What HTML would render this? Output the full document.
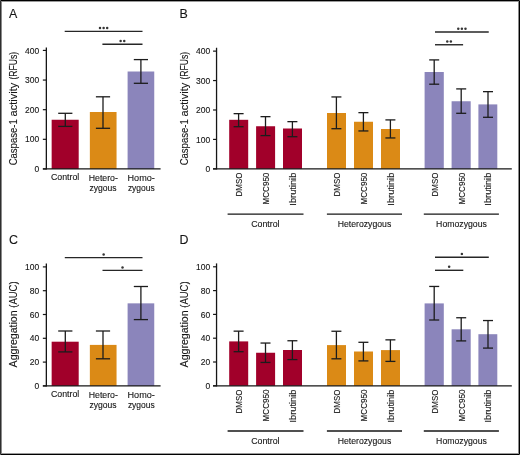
<!DOCTYPE html>
<html><head><meta charset="utf-8"><style>
html,body{margin:0;padding:0;background:#fff;}
svg{display:block;font-family:"Liberation Sans",sans-serif;will-change:transform;}
text{stroke:#161616;stroke-width:0.12px;}
</style></head><body>
<svg width="520" height="455" viewBox="0 0 520 455">
<rect x="0" y="0" width="520" height="455" fill="#fff"/>
<rect x="0" y="0" width="520" height="1" fill="#000"/>
<rect x="0" y="1" width="520" height="1" fill="#9a9a9a"/>
<rect x="0" y="454" width="520" height="1" fill="#000"/>
<rect x="0" y="453" width="520" height="1" fill="#9a9a9a"/>
<rect x="519" y="0" width="1" height="455" fill="#000"/>
<rect x="518" y="1" width="1" height="453" fill="#8a8a8a"/>
<rect x="0" y="0" width="1" height="455" fill="#2e2e2e"/>
<rect x="1" y="1" width="1" height="453" fill="#8a8a8a"/>
<rect x="0" y="0" width="1" height="1" fill="#5a5a5a"/>
<rect x="519" y="0" width="1" height="1" fill="#5a5a5a"/>
<rect x="0" y="454" width="1" height="1" fill="#5a5a5a"/>
<rect x="519" y="454" width="1" height="1" fill="#5a5a5a"/>
<text x="8.9" y="18.4" font-size="12.4" text-anchor="start" fill="#161616">A</text>
<text transform="translate(16.9,165.3) rotate(-90)" font-size="10" text-anchor="start" fill="#161616" textLength="46.0" lengthAdjust="spacingAndGlyphs">Caspase-1</text>
<text transform="translate(16.9,116.4) rotate(-90)" font-size="10" text-anchor="start" fill="#161616" textLength="33.6" lengthAdjust="spacingAndGlyphs">activity</text>
<text transform="translate(16.9,79.6) rotate(-90)" font-size="10" text-anchor="start" fill="#161616" textLength="27.8" lengthAdjust="spacingAndGlyphs">(RFUs)</text>
<rect x="51.65" y="119.75" width="27.05" height="49.2" fill="#a1002a"/>
<rect x="89.85" y="112.0" width="26.7" height="56.95" fill="#db8a16"/>
<rect x="127.6" y="71.5" width="26.65" height="97.45" fill="#8b85bb"/>
<line x1="65.3" y1="113.3" x2="65.3" y2="126.4" stroke="#1c1c1c" stroke-width="1.3"/>
<line x1="58.2" y1="113.3" x2="72.4" y2="113.3" stroke="#1c1c1c" stroke-width="1.3"/>
<line x1="58.2" y1="126.4" x2="72.4" y2="126.4" stroke="#1c1c1c" stroke-width="1.3"/>
<line x1="103.0" y1="96.8" x2="103.0" y2="128.3" stroke="#1c1c1c" stroke-width="1.3"/>
<line x1="95.9" y1="96.8" x2="110.1" y2="96.8" stroke="#1c1c1c" stroke-width="1.3"/>
<line x1="95.9" y1="128.3" x2="110.1" y2="128.3" stroke="#1c1c1c" stroke-width="1.3"/>
<line x1="140.9" y1="59.6" x2="140.9" y2="83.3" stroke="#1c1c1c" stroke-width="1.3"/>
<line x1="133.8" y1="59.6" x2="148.0" y2="59.6" stroke="#1c1c1c" stroke-width="1.3"/>
<line x1="133.8" y1="83.3" x2="148.0" y2="83.3" stroke="#1c1c1c" stroke-width="1.3"/>
<line x1="46.35" y1="47.5" x2="46.35" y2="169.55" stroke="#161616" stroke-width="1.3"/>
<line x1="42.85" y1="50.43" x2="46.35" y2="50.43" stroke="#161616" stroke-width="1.2"/>
<text x="39.25" y="53.58" font-size="9" text-anchor="end" fill="#161616" textLength="14.16" lengthAdjust="spacingAndGlyphs">400</text>
<line x1="42.85" y1="80.06" x2="46.35" y2="80.06" stroke="#161616" stroke-width="1.2"/>
<text x="39.25" y="83.21" font-size="9" text-anchor="end" fill="#161616" textLength="14.16" lengthAdjust="spacingAndGlyphs">300</text>
<line x1="42.85" y1="109.69" x2="46.35" y2="109.69" stroke="#161616" stroke-width="1.2"/>
<text x="39.25" y="112.84" font-size="9" text-anchor="end" fill="#161616" textLength="14.16" lengthAdjust="spacingAndGlyphs">200</text>
<line x1="42.85" y1="139.32" x2="46.35" y2="139.32" stroke="#161616" stroke-width="1.2"/>
<text x="39.25" y="142.47" font-size="9" text-anchor="end" fill="#161616" textLength="14.16" lengthAdjust="spacingAndGlyphs">100</text>
<line x1="42.85" y1="168.95" x2="46.35" y2="168.95" stroke="#161616" stroke-width="1.2"/>
<text x="39.25" y="172.1" font-size="9" text-anchor="end" fill="#161616" textLength="4.72" lengthAdjust="spacingAndGlyphs">0</text>
<line x1="42.9" y1="168.95" x2="160.6" y2="168.95" stroke="#161616" stroke-width="1.3"/>
<text x="65.1" y="180.45" font-size="9.3" text-anchor="middle" fill="#161616" textLength="28.4" lengthAdjust="spacingAndGlyphs">Control</text>
<text x="103.3" y="180.55" font-size="9.3" text-anchor="middle" fill="#161616" textLength="29.2" lengthAdjust="spacingAndGlyphs">Hetero-</text>
<text x="103.0" y="191.25" font-size="9.3" text-anchor="middle" fill="#161616" textLength="27.2" lengthAdjust="spacingAndGlyphs">zygous</text>
<text x="141.2" y="180.55" font-size="9.3" text-anchor="middle" fill="#161616" textLength="27.3" lengthAdjust="spacingAndGlyphs">Homo-</text>
<text x="141.3" y="191.25" font-size="9.3" text-anchor="middle" fill="#161616" textLength="26.8" lengthAdjust="spacingAndGlyphs">zygous</text>
<line x1="64.7" y1="31.4" x2="142.5" y2="31.4" stroke="#262626" stroke-width="1.4"/>
<circle cx="100.00" cy="28.1" r="1.25" fill="#353535"/>
<circle cx="103.60" cy="28.1" r="1.25" fill="#353535"/>
<circle cx="107.20" cy="28.1" r="1.25" fill="#353535"/>
<line x1="102.4" y1="44.2" x2="142.5" y2="44.2" stroke="#262626" stroke-width="1.4"/>
<circle cx="120.65" cy="41.1" r="1.25" fill="#353535"/>
<circle cx="124.25" cy="41.1" r="1.25" fill="#353535"/>
<text x="179.6" y="18.4" font-size="12.4" text-anchor="start" fill="#161616">B</text>
<text transform="translate(187.6,165.3) rotate(-90)" font-size="10" text-anchor="start" fill="#161616" textLength="46.0" lengthAdjust="spacingAndGlyphs">Caspase-1</text>
<text transform="translate(187.6,116.4) rotate(-90)" font-size="10" text-anchor="start" fill="#161616" textLength="33.6" lengthAdjust="spacingAndGlyphs">activity</text>
<text transform="translate(187.6,79.6) rotate(-90)" font-size="10" text-anchor="start" fill="#161616" textLength="27.8" lengthAdjust="spacingAndGlyphs">(RFUs)</text>
<rect x="229.2" y="119.8" width="19.0" height="49.05" fill="#a1002a"/>
<rect x="256.1" y="126.25" width="19.0" height="42.6" fill="#a1002a"/>
<rect x="283.0" y="128.5" width="19.0" height="40.35" fill="#a1002a"/>
<rect x="327.0" y="113.0" width="19.0" height="55.85" fill="#db8a16"/>
<rect x="354.0" y="121.75" width="19.0" height="47.1" fill="#db8a16"/>
<rect x="381.0" y="129.0" width="19.0" height="39.85" fill="#db8a16"/>
<rect x="424.6" y="72.0" width="19.2" height="96.85" fill="#8b85bb"/>
<rect x="451.6" y="101.25" width="19.1" height="67.6" fill="#8b85bb"/>
<rect x="478.4" y="104.4" width="18.9" height="64.45" fill="#8b85bb"/>
<line x1="238.6" y1="113.65" x2="238.6" y2="126.7" stroke="#1c1c1c" stroke-width="1.3"/>
<line x1="233.6" y1="113.65" x2="243.6" y2="113.65" stroke="#1c1c1c" stroke-width="1.3"/>
<line x1="233.6" y1="126.7" x2="243.6" y2="126.7" stroke="#1c1c1c" stroke-width="1.3"/>
<line x1="265.5" y1="116.65" x2="265.5" y2="135.6" stroke="#1c1c1c" stroke-width="1.3"/>
<line x1="260.5" y1="116.65" x2="270.5" y2="116.65" stroke="#1c1c1c" stroke-width="1.3"/>
<line x1="260.5" y1="135.6" x2="270.5" y2="135.6" stroke="#1c1c1c" stroke-width="1.3"/>
<line x1="292.4" y1="121.65" x2="292.4" y2="136.7" stroke="#1c1c1c" stroke-width="1.3"/>
<line x1="287.4" y1="121.65" x2="297.4" y2="121.65" stroke="#1c1c1c" stroke-width="1.3"/>
<line x1="287.4" y1="136.7" x2="297.4" y2="136.7" stroke="#1c1c1c" stroke-width="1.3"/>
<line x1="336.4" y1="96.95" x2="336.4" y2="128.7" stroke="#1c1c1c" stroke-width="1.3"/>
<line x1="331.4" y1="96.95" x2="341.4" y2="96.95" stroke="#1c1c1c" stroke-width="1.3"/>
<line x1="331.4" y1="128.7" x2="341.4" y2="128.7" stroke="#1c1c1c" stroke-width="1.3"/>
<line x1="363.4" y1="112.65" x2="363.4" y2="130.95" stroke="#1c1c1c" stroke-width="1.3"/>
<line x1="358.4" y1="112.65" x2="368.4" y2="112.65" stroke="#1c1c1c" stroke-width="1.3"/>
<line x1="358.4" y1="130.95" x2="368.4" y2="130.95" stroke="#1c1c1c" stroke-width="1.3"/>
<line x1="390.4" y1="119.9" x2="390.4" y2="137.95" stroke="#1c1c1c" stroke-width="1.3"/>
<line x1="385.4" y1="119.9" x2="395.4" y2="119.9" stroke="#1c1c1c" stroke-width="1.3"/>
<line x1="385.4" y1="137.95" x2="395.4" y2="137.95" stroke="#1c1c1c" stroke-width="1.3"/>
<line x1="434.2" y1="59.9" x2="434.2" y2="84.2" stroke="#1c1c1c" stroke-width="1.3"/>
<line x1="429.2" y1="59.9" x2="439.2" y2="59.9" stroke="#1c1c1c" stroke-width="1.3"/>
<line x1="429.2" y1="84.2" x2="439.2" y2="84.2" stroke="#1c1c1c" stroke-width="1.3"/>
<line x1="461.2" y1="88.9" x2="461.2" y2="113.3" stroke="#1c1c1c" stroke-width="1.3"/>
<line x1="456.2" y1="88.9" x2="466.2" y2="88.9" stroke="#1c1c1c" stroke-width="1.3"/>
<line x1="456.2" y1="113.3" x2="466.2" y2="113.3" stroke="#1c1c1c" stroke-width="1.3"/>
<line x1="488" y1="91.65" x2="488" y2="117.3" stroke="#1c1c1c" stroke-width="1.3"/>
<line x1="483" y1="91.65" x2="493" y2="91.65" stroke="#1c1c1c" stroke-width="1.3"/>
<line x1="483" y1="117.3" x2="493" y2="117.3" stroke="#1c1c1c" stroke-width="1.3"/>
<line x1="216.55" y1="47.75" x2="216.55" y2="169.45" stroke="#161616" stroke-width="1.3"/>
<line x1="213.05" y1="51.13" x2="216.55" y2="51.13" stroke="#161616" stroke-width="1.2"/>
<text x="210.15" y="54.28" font-size="9" text-anchor="end" fill="#161616" textLength="14.16" lengthAdjust="spacingAndGlyphs">400</text>
<line x1="213.05" y1="80.56" x2="216.55" y2="80.56" stroke="#161616" stroke-width="1.2"/>
<text x="210.15" y="83.71" font-size="9" text-anchor="end" fill="#161616" textLength="14.16" lengthAdjust="spacingAndGlyphs">300</text>
<line x1="213.05" y1="109.99" x2="216.55" y2="109.99" stroke="#161616" stroke-width="1.2"/>
<text x="210.15" y="113.14" font-size="9" text-anchor="end" fill="#161616" textLength="14.16" lengthAdjust="spacingAndGlyphs">200</text>
<line x1="213.05" y1="139.42" x2="216.55" y2="139.42" stroke="#161616" stroke-width="1.2"/>
<text x="210.15" y="142.57" font-size="9" text-anchor="end" fill="#161616" textLength="14.16" lengthAdjust="spacingAndGlyphs">100</text>
<line x1="213.05" y1="168.85" x2="216.55" y2="168.85" stroke="#161616" stroke-width="1.2"/>
<text x="210.15" y="172.0" font-size="9" text-anchor="end" fill="#161616" textLength="4.72" lengthAdjust="spacingAndGlyphs">0</text>
<line x1="213.0" y1="168.85" x2="511.8" y2="168.85" stroke="#161616" stroke-width="1.3"/>
<text transform="translate(242.1,172.65) rotate(-90)" font-size="9.9" text-anchor="end" fill="#161616" textLength="23.8" lengthAdjust="spacingAndGlyphs">DMSO</text>
<text transform="translate(269,172.65) rotate(-90)" font-size="9.9" text-anchor="end" fill="#161616" textLength="31.8" lengthAdjust="spacingAndGlyphs">MCC950</text>
<text transform="translate(295.9,172.65) rotate(-90)" font-size="9.9" text-anchor="end" fill="#161616" textLength="33.0" lengthAdjust="spacingAndGlyphs">Ibrutinib</text>
<text transform="translate(339.9,172.65) rotate(-90)" font-size="9.9" text-anchor="end" fill="#161616" textLength="23.8" lengthAdjust="spacingAndGlyphs">DMSO</text>
<text transform="translate(366.9,172.65) rotate(-90)" font-size="9.9" text-anchor="end" fill="#161616" textLength="31.8" lengthAdjust="spacingAndGlyphs">MCC950</text>
<text transform="translate(393.9,172.65) rotate(-90)" font-size="9.9" text-anchor="end" fill="#161616" textLength="33.0" lengthAdjust="spacingAndGlyphs">Ibrutinib</text>
<text transform="translate(437.5,172.65) rotate(-90)" font-size="9.9" text-anchor="end" fill="#161616" textLength="23.8" lengthAdjust="spacingAndGlyphs">DMSO</text>
<text transform="translate(464.5,172.65) rotate(-90)" font-size="9.9" text-anchor="end" fill="#161616" textLength="31.8" lengthAdjust="spacingAndGlyphs">MCC950</text>
<text transform="translate(491.3,172.65) rotate(-90)" font-size="9.9" text-anchor="end" fill="#161616" textLength="33.0" lengthAdjust="spacingAndGlyphs">Ibrutinib</text>
<line x1="227.6" y1="214.05" x2="303.5" y2="214.05" stroke="#161616" stroke-width="1.35"/>
<text x="265.4" y="226.6" font-size="9.4" text-anchor="middle" fill="#161616" textLength="28.4" lengthAdjust="spacingAndGlyphs">Control</text>
<line x1="326.9" y1="214.05" x2="402.0" y2="214.05" stroke="#161616" stroke-width="1.35"/>
<text x="364.5" y="226.6" font-size="9.4" text-anchor="middle" fill="#161616" textLength="53.6" lengthAdjust="spacingAndGlyphs">Heterozygous</text>
<line x1="423.8" y1="214.05" x2="498.9" y2="214.05" stroke="#161616" stroke-width="1.35"/>
<text x="461.5" y="226.6" font-size="9.4" text-anchor="middle" fill="#161616" textLength="50.8" lengthAdjust="spacingAndGlyphs">Homozygous</text>
<line x1="435" y1="32.0" x2="488.75" y2="32.0" stroke="#262626" stroke-width="1.4"/>
<circle cx="458.27" cy="28.75" r="1.25" fill="#353535"/>
<circle cx="461.88" cy="28.75" r="1.25" fill="#353535"/>
<circle cx="465.47" cy="28.75" r="1.25" fill="#353535"/>
<line x1="435" y1="44.75" x2="463.1" y2="44.75" stroke="#262626" stroke-width="1.4"/>
<circle cx="447.25" cy="41.5" r="1.25" fill="#353535"/>
<circle cx="450.85" cy="41.5" r="1.25" fill="#353535"/>
<text x="8.9" y="244.4" font-size="12.4" text-anchor="start" fill="#161616">C</text>
<text transform="translate(16.9,367.4) rotate(-90)" font-size="10" text-anchor="start" fill="#161616" textLength="57.0" lengthAdjust="spacingAndGlyphs">Aggregation</text>
<text transform="translate(16.9,307.7) rotate(-90)" font-size="10" text-anchor="start" fill="#161616" textLength="26.3" lengthAdjust="spacingAndGlyphs">(AUC)</text>
<rect x="51.65" y="341.7" width="27.05" height="44.2" fill="#a1002a"/>
<rect x="89.85" y="344.9" width="26.7" height="41.0" fill="#db8a16"/>
<rect x="127.6" y="303.35" width="26.65" height="82.55" fill="#8b85bb"/>
<line x1="65.3" y1="331.0" x2="65.3" y2="351.9" stroke="#1c1c1c" stroke-width="1.3"/>
<line x1="58.2" y1="331.0" x2="72.4" y2="331.0" stroke="#1c1c1c" stroke-width="1.3"/>
<line x1="58.2" y1="351.9" x2="72.4" y2="351.9" stroke="#1c1c1c" stroke-width="1.3"/>
<line x1="103.0" y1="331.0" x2="103.0" y2="358.8" stroke="#1c1c1c" stroke-width="1.3"/>
<line x1="95.9" y1="331.0" x2="110.1" y2="331.0" stroke="#1c1c1c" stroke-width="1.3"/>
<line x1="95.9" y1="358.8" x2="110.1" y2="358.8" stroke="#1c1c1c" stroke-width="1.3"/>
<line x1="140.9" y1="286.5" x2="140.9" y2="319.6" stroke="#1c1c1c" stroke-width="1.3"/>
<line x1="133.8" y1="286.5" x2="148.0" y2="286.5" stroke="#1c1c1c" stroke-width="1.3"/>
<line x1="133.8" y1="319.6" x2="148.0" y2="319.6" stroke="#1c1c1c" stroke-width="1.3"/>
<line x1="46.35" y1="263.6" x2="46.35" y2="386.5" stroke="#161616" stroke-width="1.3"/>
<line x1="42.85" y1="266.9" x2="46.35" y2="266.9" stroke="#161616" stroke-width="1.2"/>
<text x="39.25" y="270.05" font-size="9" text-anchor="end" fill="#161616" textLength="14.16" lengthAdjust="spacingAndGlyphs">100</text>
<line x1="42.85" y1="290.7" x2="46.35" y2="290.7" stroke="#161616" stroke-width="1.2"/>
<text x="39.25" y="293.85" font-size="9" text-anchor="end" fill="#161616" textLength="9.44" lengthAdjust="spacingAndGlyphs">80</text>
<line x1="42.85" y1="314.5" x2="46.35" y2="314.5" stroke="#161616" stroke-width="1.2"/>
<text x="39.25" y="317.65" font-size="9" text-anchor="end" fill="#161616" textLength="9.44" lengthAdjust="spacingAndGlyphs">60</text>
<line x1="42.85" y1="338.3" x2="46.35" y2="338.3" stroke="#161616" stroke-width="1.2"/>
<text x="39.25" y="341.45" font-size="9" text-anchor="end" fill="#161616" textLength="9.44" lengthAdjust="spacingAndGlyphs">40</text>
<line x1="42.85" y1="362.1" x2="46.35" y2="362.1" stroke="#161616" stroke-width="1.2"/>
<text x="39.25" y="365.25" font-size="9" text-anchor="end" fill="#161616" textLength="9.44" lengthAdjust="spacingAndGlyphs">20</text>
<line x1="42.85" y1="385.9" x2="46.35" y2="385.9" stroke="#161616" stroke-width="1.2"/>
<text x="39.25" y="389.05" font-size="9" text-anchor="end" fill="#161616" textLength="4.72" lengthAdjust="spacingAndGlyphs">0</text>
<line x1="42.9" y1="385.9" x2="160.6" y2="385.9" stroke="#161616" stroke-width="1.3"/>
<text x="65.1" y="397.4" font-size="9.3" text-anchor="middle" fill="#161616" textLength="28.4" lengthAdjust="spacingAndGlyphs">Control</text>
<text x="103.3" y="397.5" font-size="9.3" text-anchor="middle" fill="#161616" textLength="29.2" lengthAdjust="spacingAndGlyphs">Hetero-</text>
<text x="103.0" y="408.2" font-size="9.3" text-anchor="middle" fill="#161616" textLength="27.2" lengthAdjust="spacingAndGlyphs">zygous</text>
<text x="141.2" y="397.5" font-size="9.3" text-anchor="middle" fill="#161616" textLength="27.3" lengthAdjust="spacingAndGlyphs">Homo-</text>
<text x="141.3" y="408.2" font-size="9.3" text-anchor="middle" fill="#161616" textLength="26.8" lengthAdjust="spacingAndGlyphs">zygous</text>
<line x1="64.8" y1="257.6" x2="142.5" y2="257.6" stroke="#262626" stroke-width="1.4"/>
<circle cx="103.65" cy="254.4" r="1.25" fill="#353535"/>
<line x1="102.5" y1="270.4" x2="142.5" y2="270.4" stroke="#262626" stroke-width="1.4"/>
<circle cx="122.50" cy="267.4" r="1.25" fill="#353535"/>
<text x="179.6" y="244.4" font-size="12.4" text-anchor="start" fill="#161616">D</text>
<text transform="translate(187.6,367.4) rotate(-90)" font-size="10" text-anchor="start" fill="#161616" textLength="57.0" lengthAdjust="spacingAndGlyphs">Aggregation</text>
<text transform="translate(187.6,307.7) rotate(-90)" font-size="10" text-anchor="start" fill="#161616" textLength="26.3" lengthAdjust="spacingAndGlyphs">(AUC)</text>
<rect x="229.2" y="341.4" width="19.0" height="44.4" fill="#a1002a"/>
<rect x="256.1" y="352.75" width="19.0" height="33.05" fill="#a1002a"/>
<rect x="283.0" y="350.0" width="19.0" height="35.8" fill="#a1002a"/>
<rect x="327.0" y="345.1" width="19.0" height="40.7" fill="#db8a16"/>
<rect x="354.0" y="351.5" width="19.0" height="34.3" fill="#db8a16"/>
<rect x="381.0" y="350.1" width="19.0" height="35.7" fill="#db8a16"/>
<rect x="424.6" y="303.4" width="19.2" height="82.4" fill="#8b85bb"/>
<rect x="451.6" y="329.3" width="19.1" height="56.5" fill="#8b85bb"/>
<rect x="478.4" y="334.2" width="18.9" height="51.6" fill="#8b85bb"/>
<line x1="238.6" y1="331.15" x2="238.6" y2="351.7" stroke="#1c1c1c" stroke-width="1.3"/>
<line x1="233.6" y1="331.15" x2="243.6" y2="331.15" stroke="#1c1c1c" stroke-width="1.3"/>
<line x1="233.6" y1="351.7" x2="243.6" y2="351.7" stroke="#1c1c1c" stroke-width="1.3"/>
<line x1="265.5" y1="343.05" x2="265.5" y2="362.45" stroke="#1c1c1c" stroke-width="1.3"/>
<line x1="260.5" y1="343.05" x2="270.5" y2="343.05" stroke="#1c1c1c" stroke-width="1.3"/>
<line x1="260.5" y1="362.45" x2="270.5" y2="362.45" stroke="#1c1c1c" stroke-width="1.3"/>
<line x1="292.4" y1="340.75" x2="292.4" y2="359.6" stroke="#1c1c1c" stroke-width="1.3"/>
<line x1="287.4" y1="340.75" x2="297.4" y2="340.75" stroke="#1c1c1c" stroke-width="1.3"/>
<line x1="287.4" y1="359.6" x2="297.4" y2="359.6" stroke="#1c1c1c" stroke-width="1.3"/>
<line x1="336.4" y1="331.25" x2="336.4" y2="358.8" stroke="#1c1c1c" stroke-width="1.3"/>
<line x1="331.4" y1="331.25" x2="341.4" y2="331.25" stroke="#1c1c1c" stroke-width="1.3"/>
<line x1="331.4" y1="358.8" x2="341.4" y2="358.8" stroke="#1c1c1c" stroke-width="1.3"/>
<line x1="363.4" y1="342.3" x2="363.4" y2="360.9" stroke="#1c1c1c" stroke-width="1.3"/>
<line x1="358.4" y1="342.3" x2="368.4" y2="342.3" stroke="#1c1c1c" stroke-width="1.3"/>
<line x1="358.4" y1="360.9" x2="368.4" y2="360.9" stroke="#1c1c1c" stroke-width="1.3"/>
<line x1="390.4" y1="339.85" x2="390.4" y2="361.4" stroke="#1c1c1c" stroke-width="1.3"/>
<line x1="385.4" y1="339.85" x2="395.4" y2="339.85" stroke="#1c1c1c" stroke-width="1.3"/>
<line x1="385.4" y1="361.4" x2="395.4" y2="361.4" stroke="#1c1c1c" stroke-width="1.3"/>
<line x1="434.2" y1="286.45" x2="434.2" y2="320.0" stroke="#1c1c1c" stroke-width="1.3"/>
<line x1="429.2" y1="286.45" x2="439.2" y2="286.45" stroke="#1c1c1c" stroke-width="1.3"/>
<line x1="429.2" y1="320.0" x2="439.2" y2="320.0" stroke="#1c1c1c" stroke-width="1.3"/>
<line x1="461.2" y1="317.75" x2="461.2" y2="340.9" stroke="#1c1c1c" stroke-width="1.3"/>
<line x1="456.2" y1="317.75" x2="466.2" y2="317.75" stroke="#1c1c1c" stroke-width="1.3"/>
<line x1="456.2" y1="340.9" x2="466.2" y2="340.9" stroke="#1c1c1c" stroke-width="1.3"/>
<line x1="488" y1="320.55" x2="488" y2="348.1" stroke="#1c1c1c" stroke-width="1.3"/>
<line x1="483" y1="320.55" x2="493" y2="320.55" stroke="#1c1c1c" stroke-width="1.3"/>
<line x1="483" y1="348.1" x2="493" y2="348.1" stroke="#1c1c1c" stroke-width="1.3"/>
<line x1="216.55" y1="263.4" x2="216.55" y2="386.4" stroke="#161616" stroke-width="1.3"/>
<line x1="213.05" y1="266.8" x2="216.55" y2="266.8" stroke="#161616" stroke-width="1.2"/>
<text x="210.15" y="269.95" font-size="9" text-anchor="end" fill="#161616" textLength="14.16" lengthAdjust="spacingAndGlyphs">100</text>
<line x1="213.05" y1="290.6" x2="216.55" y2="290.6" stroke="#161616" stroke-width="1.2"/>
<text x="210.15" y="293.75" font-size="9" text-anchor="end" fill="#161616" textLength="9.44" lengthAdjust="spacingAndGlyphs">80</text>
<line x1="213.05" y1="314.4" x2="216.55" y2="314.4" stroke="#161616" stroke-width="1.2"/>
<text x="210.15" y="317.55" font-size="9" text-anchor="end" fill="#161616" textLength="9.44" lengthAdjust="spacingAndGlyphs">60</text>
<line x1="213.05" y1="338.2" x2="216.55" y2="338.2" stroke="#161616" stroke-width="1.2"/>
<text x="210.15" y="341.35" font-size="9" text-anchor="end" fill="#161616" textLength="9.44" lengthAdjust="spacingAndGlyphs">40</text>
<line x1="213.05" y1="362.0" x2="216.55" y2="362.0" stroke="#161616" stroke-width="1.2"/>
<text x="210.15" y="365.15" font-size="9" text-anchor="end" fill="#161616" textLength="9.44" lengthAdjust="spacingAndGlyphs">20</text>
<line x1="213.05" y1="385.8" x2="216.55" y2="385.8" stroke="#161616" stroke-width="1.2"/>
<text x="210.15" y="388.95" font-size="9" text-anchor="end" fill="#161616" textLength="4.72" lengthAdjust="spacingAndGlyphs">0</text>
<line x1="213.0" y1="385.8" x2="511.8" y2="385.8" stroke="#161616" stroke-width="1.3"/>
<text transform="translate(242.1,389.6) rotate(-90)" font-size="9.9" text-anchor="end" fill="#161616" textLength="23.8" lengthAdjust="spacingAndGlyphs">DMSO</text>
<text transform="translate(269,389.6) rotate(-90)" font-size="9.9" text-anchor="end" fill="#161616" textLength="31.8" lengthAdjust="spacingAndGlyphs">MCC950</text>
<text transform="translate(295.9,389.6) rotate(-90)" font-size="9.9" text-anchor="end" fill="#161616" textLength="33.0" lengthAdjust="spacingAndGlyphs">Ibrutinib</text>
<text transform="translate(339.9,389.6) rotate(-90)" font-size="9.9" text-anchor="end" fill="#161616" textLength="23.8" lengthAdjust="spacingAndGlyphs">DMSO</text>
<text transform="translate(366.9,389.6) rotate(-90)" font-size="9.9" text-anchor="end" fill="#161616" textLength="31.8" lengthAdjust="spacingAndGlyphs">MCC950</text>
<text transform="translate(393.9,389.6) rotate(-90)" font-size="9.9" text-anchor="end" fill="#161616" textLength="33.0" lengthAdjust="spacingAndGlyphs">Ibrutinib</text>
<text transform="translate(437.5,389.6) rotate(-90)" font-size="9.9" text-anchor="end" fill="#161616" textLength="23.8" lengthAdjust="spacingAndGlyphs">DMSO</text>
<text transform="translate(464.5,389.6) rotate(-90)" font-size="9.9" text-anchor="end" fill="#161616" textLength="31.8" lengthAdjust="spacingAndGlyphs">MCC950</text>
<text transform="translate(491.3,389.6) rotate(-90)" font-size="9.9" text-anchor="end" fill="#161616" textLength="33.0" lengthAdjust="spacingAndGlyphs">Ibrutinib</text>
<line x1="227.6" y1="431.0" x2="303.5" y2="431.0" stroke="#161616" stroke-width="1.35"/>
<text x="265.4" y="443.55" font-size="9.4" text-anchor="middle" fill="#161616" textLength="28.4" lengthAdjust="spacingAndGlyphs">Control</text>
<line x1="326.9" y1="431.0" x2="402.0" y2="431.0" stroke="#161616" stroke-width="1.35"/>
<text x="364.5" y="443.55" font-size="9.4" text-anchor="middle" fill="#161616" textLength="53.6" lengthAdjust="spacingAndGlyphs">Heterozygous</text>
<line x1="423.8" y1="431.0" x2="498.9" y2="431.0" stroke="#161616" stroke-width="1.35"/>
<text x="461.5" y="443.55" font-size="9.4" text-anchor="middle" fill="#161616" textLength="50.8" lengthAdjust="spacingAndGlyphs">Homozygous</text>
<line x1="435" y1="257.2" x2="488.8" y2="257.2" stroke="#262626" stroke-width="1.4"/>
<circle cx="461.90" cy="253.9" r="1.25" fill="#353535"/>
<line x1="435" y1="270.3" x2="463.3" y2="270.3" stroke="#262626" stroke-width="1.4"/>
<circle cx="449.15" cy="266.8" r="1.25" fill="#353535"/>
</svg>
</body></html>
